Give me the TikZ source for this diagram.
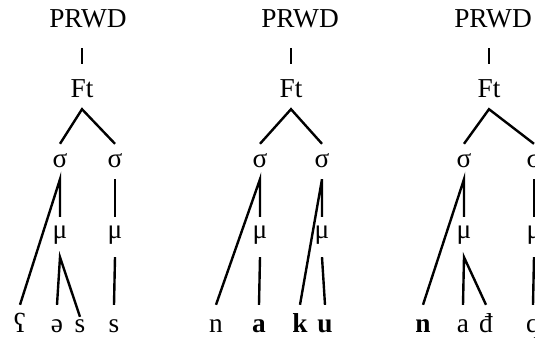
\documentclass[tikz,border=0pt]{standalone}
\usepackage{fontspec}
\setmainfont{Liberation Serif}

\begin{document}
\begin{tikzpicture}[x=0.75pt,y=0.75pt,yscale=-1,xscale=1,line width=1.8pt,
    every node/.style={font=\fontsize{20.5}{24}\selectfont, inner sep=0pt, anchor=base},
    wd/.style={text depth=14.25pt},
    ftn/.style={text height=24.75pt, text depth=7.5pt},
    syl/.style={text height=16.5pt, text depth=8.25pt},
    mor/.style={text height=15pt, text depth=13.5pt},
    seg/.style={text height=19.5pt}]
      \useasboundingbox (0,0) rectangle (535,349);
      % first tree
      \node[wd] (pw1) at (88,28) {PRWD};
      \node[ftn] (ft1) at (82,98) {Ft};
      \node[syl] (s1l) at (60,167) {σ};
      \node[syl] (s1r) at (115,167) {σ};
      \node[mor] (m1l) at (60,238) {μ};
      \node[mor] (m1r) at (115,238) {μ};
      \node[seg] (c1a) at (20,332) {ʕ};
      \node[seg] (c1b) at (57,332) {ə};
      \node[seg,text height=10.5pt] (c1c) at (80,332) {s};
      \node[seg] (c1d) at (114,332) {s};
      \draw (ft1.north |- pw1.south) -- (ft1.north);
      \draw (s1l.north) -- (ft1.south) -- (s1r.north);
      \draw (c1a.north) -- (s1l.south) -- (m1l.north);
      \draw (s1r.south) -- (m1r.north);
      \draw (c1b.north) -- (m1l.south) -- (c1c.north);
      \draw (m1r.south) -- (c1d.north);
      % second tree
      \node[wd] (pw2) at (300,28) {PRWD};
      \node[ftn] (ft2) at (291,98) {Ft};
      \node[syl] (s2l) at (260,167) {σ};
      \node[syl] (s2r) at (322,167) {σ};
      \node[mor] (m2l) at (260,238) {μ};
      \node[mor] (m2r) at (322,238) {μ};
      \node[seg] (c2a) at (216,332) {n};
      \node[seg] (c2b) at (259,332) {\textbf{a}};
      \node[seg] (c2c) at (300,332) {\textbf{k}};
      \node[seg] (c2d) at (325,332) {\textbf{u}};
      \draw (ft2.north |- pw2.south) -- (ft2.north);
      \draw (s2l.north) -- (ft2.south) -- (s2r.north);
      \draw (c2a.north) -- (s2l.south) -- (m2l.north);
      \draw (c2c.north) -- (s2r.south) -- (m2r.north);
      \draw (m2l.south) -- (c2b.north);
      \draw (m2r.south) -- (c2d.north);
      % third tree
      \node[wd] (pw3) at (493,28) {PRWD};
      \node[ftn] (ft3) at (489,98) {Ft};
      \node[syl] (s3l) at (464,167) {σ};
      \node[syl] (s3r) at (534,167) {σ};
      \node[mor] (m3l) at (464,238) {μ};
      \node[mor] (m3r) at (534,238) {μ};
      \node[seg] (c3a) at (423,332) {\textbf{n}};
      \node[seg] (c3b) at (463,332) {a};
      \node[seg] (c3c) at (486,332) {đ};
      \node[seg] (c3d) at (533,332) {q};
      \draw (ft3.north |- pw3.south) -- (ft3.north);
      \draw (s3l.north) -- (ft3.south) -- (s3r.north);
      \draw (c3a.north) -- (s3l.south) -- (m3l.north);
      \draw (s3r.south) -- (m3r.north);
      \draw (c3b.north) -- (m3l.south) -- (c3c.north);
      \draw (m3r.south) -- (c3d.north);
  \end{tikzpicture}
\end{document}
